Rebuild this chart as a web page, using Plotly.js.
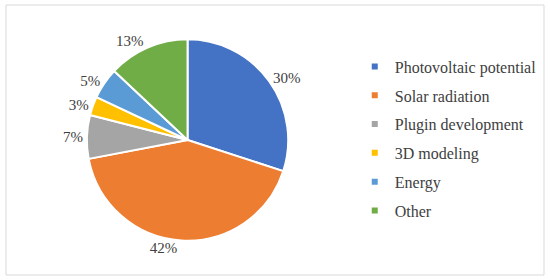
<!DOCTYPE html>
<html>
<head>
<meta charset="utf-8">
<script src="https://cdn.plot.ly/plotly-3.0.1.min.js"></script>
<style>html,body{margin:0;padding:0;background:#fff;}#chart{width:550px;height:280px;}</style>
</head>
<body>
<div id="chart"></div>
<script>
const categories = ["Photovoltaic potential", "Solar radiation", "Plugin development", "3D modeling", "Energy", "Other"];
const shares = [30, 42, 7, 3, 5, 13];
const colors = ["#4472C4", "#ED7D31", "#A5A5A5", "#FFC000", "#5B9BD5", "#70AD47"];

const FONT = "'Liberation Serif', 'Times New Roman', Tinos, serif";
const TXT = "#404040";

const traces = [{
  type: "pie",
  labels: categories,
  values: shares,
  sort: false,
  direction: "clockwise",
  rotation: 0,
  marker: {colors: colors, line: {color: "#ffffff", width: 2}},
  textinfo: "percent",
  texttemplate: "%{value}%",
  textposition: "outside",
  outsidetextfont: {family: FONT, size: 15, color: TXT},
  showlegend: false,
  domain: {x: [0.158, 0.524], y: [0.14, 0.86]},
  hoverinfo: "label+percent"
}];

categories.forEach((c, i) => {
  traces.push({
    type: "scatter",
    mode: "markers",
    x: [null], y: [null],
    name: c,
    legendgroup: "g" + i,
    marker: {symbol: "square", size: 6, color: colors[i]},
    showlegend: true,
    hoverinfo: "skip"
  });
});

const layout = {
  width: 550, height: 280,
  margin: {l: 0, r: 0, t: 0, b: 0},
  paper_bgcolor: "#ffffff",
  plot_bgcolor: "rgba(0,0,0,0)",
  font: {family: FONT, color: TXT},
  xaxis: {visible: false, fixedrange: true},
  yaxis: {visible: false, fixedrange: true},
  legend: {
    x: 0.645, xanchor: "left",
    y: 0.823, yanchor: "top",
    font: {family: FONT, size: 16, color: TXT},
    tracegroupgap: 5,
    bgcolor: "rgba(0,0,0,0)",
    itemclick: false, itemdoubleclick: false
  },
  shapes: [{
    type: "rect", xref: "paper", yref: "paper",
    x0: 6/550, x1: 544/550, y0: 5/280, y1: 275/280,
    line: {color: "#D9D9D9", width: 1}, fillcolor: "rgba(0,0,0,0)", layer: "below"
  }]
};

Plotly.newPlot("chart", traces, layout, {displayModeBar: false, staticPlot: true});
</script>
</body>
</html>
